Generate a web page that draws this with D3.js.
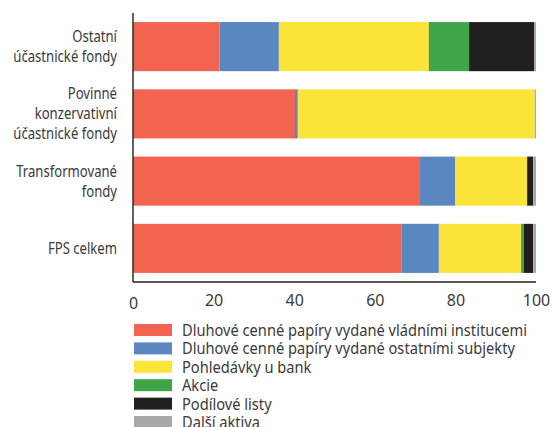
<!DOCTYPE html>
<html>
<head>
<meta charset="utf-8">
<script src="https://cdn.jsdelivr.net/npm/d3@7"></script>
<style>
  html, body { margin: 0; padding: 0; background: #fff; }
  svg { display: block; }
  text { font-family: "Noto Sans", "Open Sans", sans-serif; fill: #3a3a3a; }
</style>
</head>
<body>
<svg id="chart" width="552" height="427"></svg>
<script>
// Fund groups (each label split into lines)
const categories = [
  ["Ostatní", "účastnické fondy"],
  ["Povinné", "konzervativní", "účastnické fondy"],
  ["Transformované", "fondy"],
  ["FPS celkem"]
];

// Asset classes, in stacking order
const seriesNames = [
  "Dluhové cenné papíry vydané vládními institucemi",
  "Dluhové cenné papíry vydané ostatními subjekty",
  "Pohledávky u bank",
  "Akcie",
  "Podílové listy",
  "Další aktiva"
];
const seriesColors = ["#f26450", "#5a87bf", "#fbe43a", "#3fa548", "#231f20", "#a7a9ac"];

// Share of each asset class per fund group (%)
const govBonds   = [21.5, 40.2, 71.0, 66.7];
const otherBonds = [14.7,  0.7,  8.9,  9.2];
const bankClaims = [37.2, 58.8, 17.9, 20.4];
const shares     = [10.0,  0.0,  0.0,  0.7];
const fundUnits  = [16.1,  0.0,  1.5,  2.3];
const otherAssets= [ 0.5,  0.3,  0.7,  0.7];

const xTicks = [0, 20, 40, 60, 80, 100];

const seriesValues = [govBonds, otherBonds, bankClaims, shares, fundUnits, otherAssets];
const rows = categories.map((c, i) => {
  const r = { key: i };
  seriesNames.forEach((s, j) => { r[s] = seriesValues[j][i]; });
  return r;
});

const svg = d3.select("#chart");
const x = d3.scaleLinear().domain([0, 100]).range([133, 536]);
const y = d3.scaleBand().domain(categories.map((c, i) => i))
  .range([13, 282]).paddingInner(0.27).paddingOuter(0.135);
const color = d3.scaleOrdinal().domain(seriesNames).range(seriesColors);

const stacked = d3.stack().keys(seriesNames)(rows);

svg.append("g").selectAll("g").data(stacked).join("g")
  .attr("fill", d => color(d.key))
  .selectAll("rect").data(d => d).join("rect")
  .attr("x", d => x(d[0]))
  .attr("y", d => y(d.data.key))
  .attr("width", d => Math.max(0, x(d[1]) - x(d[0])))
  .attr("height", y.bandwidth());

// Axis frame: left and bottom lines
svg.append("line").attr("x1", x(0)).attr("x2", x(0)).attr("y1", 13).attr("y2", 282)
  .attr("stroke", "#231f20").attr("stroke-width", 1.4);
svg.append("line").attr("x1", x(0)).attr("x2", x(100)).attr("y1", 282).attr("y2", 282)
  .attr("stroke", "#231f20").attr("stroke-width", 1.4);

// X tick labels
const xAxis = d3.axisBottom(x).tickValues(xTicks).tickSize(0).tickPadding(0);
const gx = svg.append("g").attr("transform", "translate(0,282)").call(xAxis);
gx.select(".domain").remove();
gx.selectAll("text")
  .attr("dy", null)
  .attr("y", d => d === 0 ? 27 : 24)
  .style("font-size", "16px")
  .style("font-family", "\"Noto Sans\", sans-serif")
  .attr("fill", "#3a3a3a");

// Category labels, right-aligned and centred on each bar (condensed face)
const lineH = 20;
const labelRight = 117;
svg.append("g").selectAll("text").data(categories).join("text")
  .attr("text-anchor", "end")
  .style("font-size", "16px")
  .attr("transform", `translate(${labelRight},0) scale(0.82,1)`)
  .each(function(lines, i) {
    const cy = y(i) + y.bandwidth() / 2;
    const top = cy - (lines.length - 1) * lineH / 2;
    d3.select(this).selectAll("tspan").data(lines).join("tspan")
      .attr("x", 0)
      .attr("y", (l, k) => top + k * lineH + 5.5)
      .text(l => l);
  });

// Legend
const legend = svg.append("g").selectAll("g").data(seriesNames).join("g")
  .attr("transform", (d, i) => `translate(134, ${324 + i * 18.4})`);
legend.append("rect").attr("width", 38).attr("height", 12).attr("fill", d => color(d));
legend.append("text")
  .attr("transform", "translate(48,12) scale(0.915,1)")
  .style("font-size", "16px")
  .text(d => d);
</script>
</body>
</html>
